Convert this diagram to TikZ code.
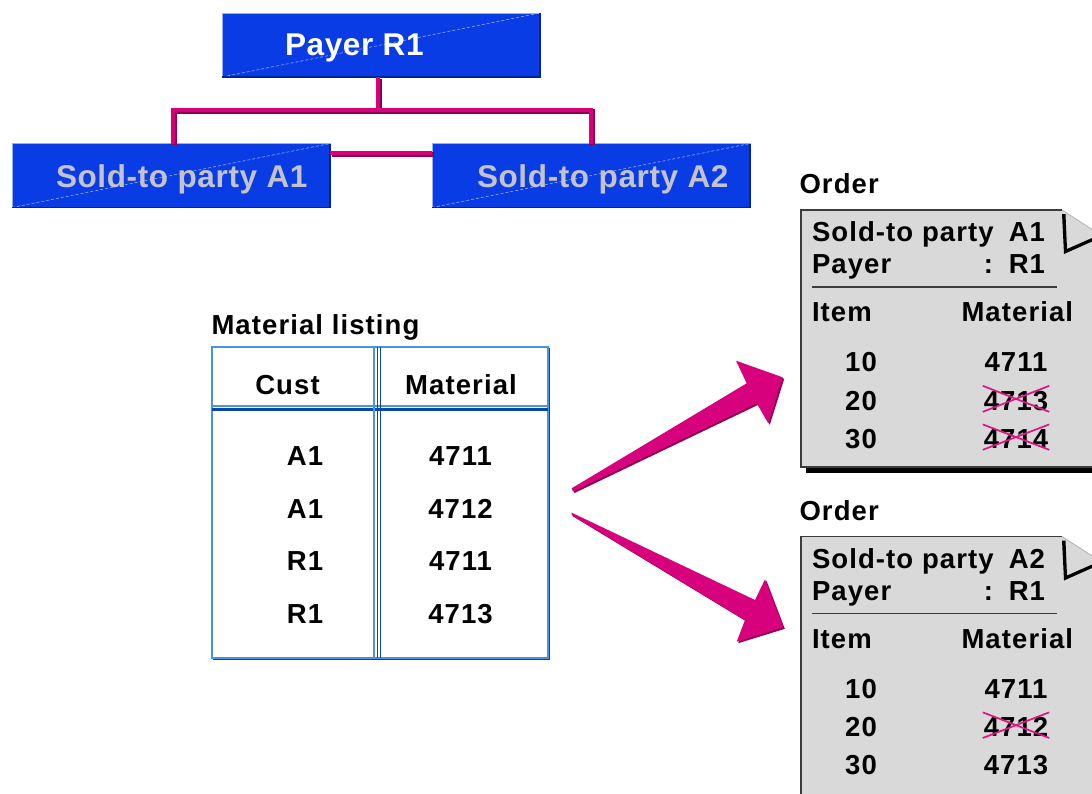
\documentclass[tikz,border=0pt]{standalone}
\usepackage{fontspec}
\setmainfont{Liberation Sans}
\newfontfamily\spacedfont[LetterSpace=4]{Liberation Sans}
\newfontfamily\topfont[LetterSpace=2]{Liberation Sans}
\definecolor{boxblue}{RGB}{10,60,230}
\definecolor{boxlight}{RGB}{150,175,245}
\definecolor{boxdark}{RGB}{0,35,150}
\definecolor{magmain}{RGB}{215,0,125}
\definecolor{magdark}{RGB}{140,0,75}
\definecolor{maglight}{RGB}{240,120,180}
\definecolor{soldgray}{RGB}{195,195,205}
\definecolor{tbllight}{RGB}{75,145,228}
\definecolor{tbldark}{RGB}{10,70,165}
\definecolor{paperfill}{RGB}{217,217,217}
\definecolor{paperedge}{RGB}{60,60,60}
\definecolor{strikecol}{RGB}{225,20,135}
\begin{document}
\begin{tikzpicture}[x=1pt,y=-1pt,
  bluebox/.style={draw=boxlight, line width=1pt, fill=boxblue, minimum width=318pt, minimum height=64pt, inner sep=0pt, outer sep=0pt},
  diagline/.style={draw=boxlight, line width=0.6pt, dash pattern=on 3pt off 2pt},
  darkedge/.style={draw=boxdark, line width=1.4pt},
  toptxt/.style={font=\topfont\bfseries\fontsize{31.5}{36}\selectfont, inner sep=0pt, outer sep=0pt},
  txt/.style={font=\spacedfont\bfseries\fontsize{27.5}{32}\selectfont, inner sep=0pt, outer sep=0pt, text=black},
  conn/.style={draw=magmain, line width=4.5pt, preaction={draw=magdark, line width=4.5pt, transform canvas={shift={(1.5pt,-1.5pt)}}}},
  strike/.style={draw=strikecol, line width=1.7pt},
  rule/.style={draw=paperedge, line width=1.5pt},
  arrowfill/.style={fill=magmain},
  arrowshadow/.style={fill=magdark}
]
\useasboundingbox (0,0) rectangle (1092,793);
\clip (0,0) rectangle (1092,793);

% ---------- hierarchy ----------
\node[bluebox] (payer) at (381,45) {};
\node[bluebox] (a1) at (171,175.5) {};
\node[bluebox] (a2) at (591,175.5) {};
\foreach \b in {payer,a1,a2}{
  \draw[diagline] (\b.south west) -- (\b.north east);
  \draw[darkedge] (\b.south west) -- (\b.south east) -- (\b.north east);
}
\node[toptxt, text=white, anchor=base west] (payerlbl) at (285,55) {Payer R1};
\node[toptxt, text=soldgray, anchor=base west] (a1lbl) at (56,187.5) {Sold-to party A1};
\node[toptxt, text=soldgray, anchor=base west] (a2lbl) at (477,187.5) {Sold-to party A2};

\coordinate (bus) at (378,110);
\draw[conn] ([xshift=-3pt]payer.south) -- (bus);
\draw[conn] ([xshift=2pt]a1.north) |- (bus) -| (a2.north);
\draw[conn] ([yshift=22.5pt]a1.east) -- ([yshift=22.5pt]a2.west);

% ---------- material listing ----------
\node[txt, anchor=base west] (mlabel) at (211.5,334) {Material listing};
\node[minimum width=336pt, minimum height=311pt, inner sep=0pt, outer sep=0pt] (tbl) at (380,502.5) {};
\draw[tbllight, line width=2pt] (tbl.north west) rectangle (tbl.south east);
\draw[tbldark, line width=1.5pt] ([shift={(1pt,-1.5pt)}]tbl.south west) -- ([shift={(1.5pt,-1.5pt)}]tbl.south east) -- ([shift={(1.5pt,-1pt)}]tbl.north east);
\draw[tbllight, line width=1.5pt] (212,406) -- (548,406);
\draw[tbldark, line width=2.5pt] (212,409.5) -- (548,409.5);
\draw[tbllight, line width=1.2pt] (374,347) -- (374,658);
\draw[tbldark, line width=1.3pt] (377.3,347) -- (377.3,658);
\draw[tbldark, line width=1.3pt] (380.6,347) -- (380.6,658);

\node[txt, anchor=base] (hcust) at (287.5,394.5) {Cust};
\node[txt, anchor=base] (hmat) at (461,394.5) {Material};
\node[txt, anchor=base] (c1) at (305,465.5) {A1};
\node[txt, anchor=base] (m1) at (460.5,465.5) {4711};
\node[txt, anchor=base] (c2) at (305,518) {A1};
\node[txt, anchor=base] (m2) at (460.5,518) {4712};
\node[txt, anchor=base] (c3) at (305,570.5) {R1};
\node[txt, anchor=base] (m3) at (460.5,570.5) {4711};
\node[txt, anchor=base] (c4) at (305,623) {R1};
\node[txt, anchor=base] (m4) at (460.5,623) {4713};

% ---------- arrows ----------
\begin{scope}[shift={(1.5,1.5)}]
\fill[arrowshadow] (571.7,488.3) -- (746.7,383.3) -- (736,360.7) -- (782.7,377.3) -- (768.3,423.3) -- (756.7,403.3) -- (573,491.5) -- cycle;
\fill[arrowshadow] (571.7,512.7) -- (755,600) -- (765,579.3) -- (783.3,627.3) -- (736.7,641.7) -- (745,620) -- (571.7,515) -- cycle;
\end{scope}
\fill[arrowfill] (571.7,488.3) -- (746.7,383.3) -- (736,360.7) -- (782.7,377.3) -- (768.3,423.3) -- (756.7,403.3) -- (573,491.5) -- cycle;
\fill[arrowfill] (571.7,512.7) -- (755,600) -- (765,579.3) -- (783.3,627.3) -- (736.7,641.7) -- (745,620) -- (571.7,515) -- cycle;

% ---------- order 1 ----------
\node[txt, anchor=base west] (ordlbl1) at (799.5,193.5) {Order};
\fill[black] (806,260) rectangle (1110,473);
\fill[paperfill] (801,210) -- (1062,210) -- (1110,241) -- (1110,467) -- (801,467) -- cycle;
\draw[paperedge, line width=1.6pt] (1062,210) -- (801,210) -- (801,467) -- (1110,467);
\draw[gray!60, line width=0.8pt] (1062,210) -- (1110,241);
\fill[black] (1062,214) -- (1064,254) -- (1092,241.5) -- (1092,238) -- (1067,249) -- (1065.5,214) -- cycle;
\node[txt, anchor=base west] (o1sold) at (812,241.5) {Sold-to party};
\node[txt, anchor=base east] (o1soldv) at (1045,241.5) {A1};
\node[txt, anchor=base west] (o1pay) at (812,273.5) {Payer};
\node[txt, anchor=base] (o1colon) at (988.5,273.5) {:};
\node[txt, anchor=base east] (o1payv) at (1045,273.5) {R1};
\draw[rule] (811.5,287) -- (1057,287);
\node[txt, anchor=base west] (o1item) at (812,321.5) {Item};
\node[txt, anchor=base west] (o1mat) at (961.5,321.5) {Material};
\node[txt, anchor=base] (o1i1) at (861,371.7) {10};
\node[txt, anchor=base] (o1m1) at (1016,371.7) {4711};
\node[txt, anchor=base] (o1i2) at (861,410) {20};
\node[txt, anchor=base] (o1m2) at (1016,410) {4713};
\node[txt, anchor=base] (o1i3) at (861,448.3) {30};
\node[txt, anchor=base] (o1m3) at (1016,448.3) {4714};
\foreach \n in {o1m2,o1m3}{
  \draw[strike] ([shift={(-1pt,5pt)}]\n.north west) -- ([shift={(1pt,-1.5pt)}]\n.south east);
  \draw[strike] ([shift={(-1pt,-1.5pt)}]\n.south west) -- ([shift={(1pt,5pt)}]\n.north east);
}

% ---------- order 2 ----------
\begin{scope}[shift={(0,326.5)}]
\node[txt, anchor=base west] (ordlbl2) at (799.5,193.5) {Order};
\fill[black] (806,260) rectangle (1110,600);
\fill[paperfill] (801,210) -- (1062,210) -- (1110,241) -- (1110,600) -- (801,600) -- cycle;
\draw[paperedge, line width=1.6pt] (1062,210) -- (801,210) -- (801,600);
\draw[gray!60, line width=0.8pt] (1062,210) -- (1110,241);
\fill[black] (1062,214) -- (1064,254) -- (1092,241.5) -- (1092,238) -- (1067,249) -- (1065.5,214) -- cycle;
\node[txt, anchor=base west] (o2sold) at (812,241.5) {Sold-to party};
\node[txt, anchor=base east] (o2soldv) at (1045,241.5) {A2};
\node[txt, anchor=base west] (o2pay) at (812,273.5) {Payer};
\node[txt, anchor=base] (o2colon) at (988.5,273.5) {:};
\node[txt, anchor=base east] (o2payv) at (1045,273.5) {R1};
\draw[rule] (811.5,287) -- (1057,287);
\node[txt, anchor=base west] (o2item) at (812,321.5) {Item};
\node[txt, anchor=base west] (o2mat) at (961.5,321.5) {Material};
\node[txt, anchor=base] (o2i1) at (861,371.7) {10};
\node[txt, anchor=base] (o2m1) at (1016,371.7) {4711};
\node[txt, anchor=base] (o2i2) at (861,410) {20};
\node[txt, anchor=base] (o2m2) at (1016,410) {4712};
\node[txt, anchor=base] (o2i3) at (861,448.3) {30};
\node[txt, anchor=base] (o2m3) at (1016,448.3) {4713};
\draw[strike] ([shift={(-1pt,5pt)}]o2m2.north west) -- ([shift={(1pt,-1.5pt)}]o2m2.south east);
\draw[strike] ([shift={(-1pt,-1.5pt)}]o2m2.south west) -- ([shift={(1pt,5pt)}]o2m2.north east);
\end{scope}
\end{tikzpicture}
\end{document}
